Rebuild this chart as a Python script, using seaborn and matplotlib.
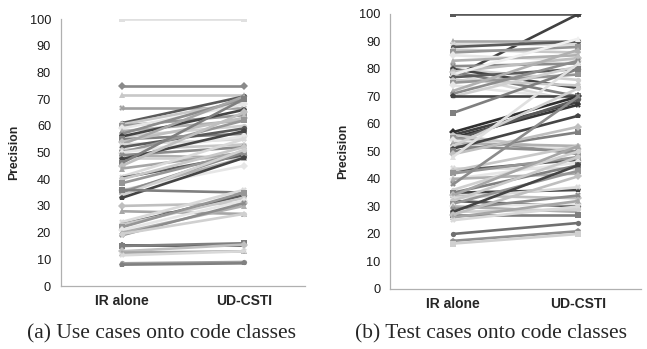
import numpy as np
import pandas as pd
import matplotlib.pyplot as plt
import seaborn as sns

# precision per case: IR alone vs UD-CSTI
methods = ["IR alone", "UD-CSTI"]

uc_ir = [100, 75, 71.5, 66.5, 61, 60.5, 60, 59, 58, 57, 56, 56, 55, 54, 53, 53, 52, 51,
         50, 50, 49, 49, 48, 47.5, 46, 45, 44, 41, 40.5, 40, 38.5, 36, 35.5, 35, 34, 33,
         36, 30, 28, 24, 23, 23, 22, 21, 20, 19, 19.5, 15.5, 15, 13, 12.5, 11.5, 8.5, 8]
uc_ud = [100, 75, 71.5, 66.5, 71, 69, 64, 68, 62, 70, 60, 66, 57, 63, 71, 55, 59, 53,
         62, 56, 48, 52, 48, 58, 70, 65, 50, 55, 49, 52, 50, 45, 48, 50, 51, 48,
         35, 31, 27, 36, 34, 33, 35, 32, 30, 31, 27, 15.5, 16, 15.5, 13, 13, 9, 8.5]

tc_ir = [100, 77, 90, 89, 88, 87, 86, 85, 83, 81, 80, 80, 79, 79, 78, 78, 77, 76, 75,
         74, 72, 71, 70, 70, 64, 57, 56, 55, 54, 56, 55, 54, 53, 52, 52, 51, 50, 49, 48,
         44, 43, 43, 42, 40, 40, 38, 36, 35, 35, 34, 34, 33, 32, 32, 31, 30, 30, 29, 28,
         28, 27, 27, 26, 25, 20, 17.5, 16.5]
tc_ud = [100, 100, 90, 89, 90, 86, 88, 83, 85, 82, 76, 73, 70, 84, 91, 68, 80, 74, 78,
         69, 87, 83, 81, 70, 80, 70, 68, 67, 69, 50, 49, 51, 52, 50, 73, 63, 57, 59, 82,
         44, 47, 52, 48, 46, 42, 70, 50, 36, 45, 33, 52, 37, 30, 48, 43, 31, 28, 34, 29,
         45, 27, 41, 32, 30, 24, 21, 20]

grays = ["#7f7f7f", "#bfbfbf", "#a6a6a6", "#d9d9d9", "#5a5a5a", "#c8c8c8",
         "#969696", "#e6e6e6", "#b0b0b0", "#8c8c8c", "#d0d0d0", "#444444"]
marks = ["s", "D", "^", "X", "o", "p"]


def to_long(ir, ud):
    rows = []
    for i, (a, b) in enumerate(zip(ir, ud)):
        rows.append({"case": i, "method": methods[0], "precision": a})
        rows.append({"case": i, "method": methods[1], "precision": b})
    return pd.DataFrame(rows)


def draw(ax, df, n, first_colors=None):
    pal = [grays[i % len(grays)] for i in range(n)]
    if first_colors:
        for k, c in first_colors.items():
            pal[k] = c
    mk = [marks[i % len(marks)] for i in range(n)]
    sns.lineplot(data=df, x="method", y="precision", hue="case", style="case",
                 palette=pal, markers=mk, dashes=False, markersize=3.8,
                 linewidth=1.9, legend=False, ax=ax, markeredgewidth=0)
    ax.set_xlim(-0.5, 1.5)
    ax.set_ylim(0, 100)
    ax.set_yticks(np.arange(0, 101, 10))
    ax.set_xticks([0, 1])
    ax.set_xticks([-0.5, 0.5, 1.5], minor=True)
    ax.tick_params(axis="x", which="major", length=0, pad=6)
    ax.tick_params(axis="x", which="minor", length=4, color="#b0b0b0", direction="out")
    ax.tick_params(axis="y", length=4, color="#b0b0b0", labelsize=9.2, pad=3,
                   labelcolor="#1a1a1a")
    for lab in ax.get_xticklabels():
        lab.set_fontweight("bold")
        lab.set_fontsize(10)
    ax.set_xlabel("")
    ax.set_ylabel("Precision", fontweight="bold", fontsize=8.8, labelpad=7)
    for s in ["top", "right"]:
        ax.spines[s].set_visible(False)
    for s in ["left", "bottom"]:
        ax.spines[s].set_color("#b0b0b0")
        ax.spines[s].set_linewidth(0.9)
    ax.grid(False)


sns.set_theme(style="white")
plt.rcParams["font.family"] = ["Liberation Sans", "DejaVu Sans"]

fig = plt.figure(figsize=(6.47, 3.49), dpi=100)
ax1 = fig.add_axes([0.094, 0.1805, 0.377, 0.765])
ax2 = fig.add_axes([0.603, 0.172, 0.388, 0.788])

draw(ax1, to_long(uc_ir, uc_ud), len(uc_ir),
     {0: "#e0e0e0", 1: "#8a8a8a", 2: "#c8c8c8", 3: "#a0a0a0", 52: "#a0a0a0", 53: "#808080"})
draw(ax2, to_long(tc_ir, tc_ud), len(tc_ir),
     {0: "#595959", 1: "#404040", 25: "#303030", 26: "#404040", 27: "#353535",
      14: "#f0f0f0", 38: "#e0e0e0", 64: "#707070", 65: "#909090", 66: "#d0d0d0"})

fig.text(0.25, 0.044, "(a) Use cases onto code classes", ha="center", va="center",
         fontsize=15.5, family="Liberation Serif")
fig.text(0.759, 0.044, "(b) Test cases onto code classes", ha="center", va="center",
         fontsize=15.5, family="Liberation Serif")

fig.savefig("out.png", dpi=100)
